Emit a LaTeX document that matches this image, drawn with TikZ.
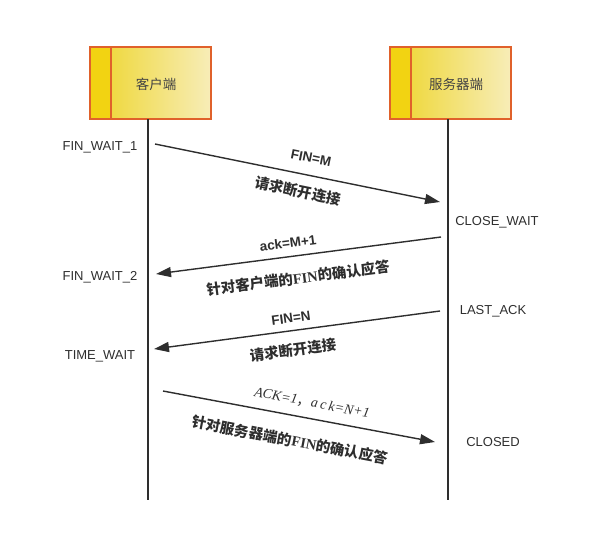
\documentclass[tikz,border=0pt]{standalone}
\usepackage{fontspec}
\setmainfont{Liberation Sans}
\newfontfamily\cjk{Noto Sans CJK SC}
\newfontfamily\serifen{Liberation Serif}
\usetikzlibrary{arrows.meta,calc}
\definecolor{boxborder}{HTML}{E0612B}
\definecolor{stripyel}{HTML}{F2D312}
\definecolor{gradL}{HTML}{EED52A}
\definecolor{gradR}{HTML}{F7EDB8}
\definecolor{ink}{HTML}{2E2E2E}
\begin{document}
\begin{tikzpicture}[x=1pt,y=-1pt,
  actor/.style={draw=boxborder,line width=1.8pt,left color=gradL,right color=gradR,
    minimum width=121pt,minimum height=72pt,inner sep=0pt,outer sep=0pt},
  strip/.style={draw=boxborder,line width=1.8pt,fill=stripyel},
  boxtext/.style={font=\cjk\fontsize{13.5}{15}\selectfont,text=ink!90},
  life/.style={draw=ink,line width=1.6pt},
  msg/.style={draw=ink,line width=1.4pt,-{Triangle[length=15pt,width=10pt]}},
  state/.style={font=\fontsize{13}{15}\selectfont,text=ink,inner sep=0pt},
  enlabel/.style={font=\bfseries\fontsize{13.5}{15}\selectfont,text=ink,inner sep=0pt},
  cnlabel/.style={font=\cjk\bfseries\fontsize{14.5}{16}\selectfont,text=ink,inner sep=0pt}]
\useasboundingbox (0,0) rectangle (596,533);
% actor boxes
\node[actor] (cli) at (150.5,83) {};
\draw[strip] (cli.north west) rectangle ($(cli.south west)+(21,0)$);
\node[boxtext] (clit) at (156,84) {客户端};
\node[actor] (srv) at (450.5,83) {};
\draw[strip] (srv.north west) rectangle ($(srv.south west)+(21,0)$);
\node[boxtext] (srvt) at (456,84) {服务器端};
% lifelines
\coordinate (cliend) at (148,500);
\coordinate (srvend) at (448,500);
\draw[life] (cli.south -| cliend) -- (cliend);
\draw[life] (srv.south -| srvend) -- (srvend);
% message endpoints
\coordinate (m1s) at (155,144);
\coordinate (m1e) at (440,202);
\coordinate (m2s) at (441,237);
\coordinate (m2e) at (156,274);
\coordinate (m3s) at (440,311);
\coordinate (m3e) at (154,349);
\coordinate (m4s) at (163,391);
\coordinate (m4e) at (435,442);
\draw[msg] (m1s) -- (m1e);
\draw[msg] (m2s) -- (m2e);
\draw[msg] (m3s) -- (m3e);
\draw[msg] (m4s) -- (m4e);
% message labels
\node[enlabel,rotate=-11.5] (l1a) at (311,158) {FIN=M};
\node[cnlabel,rotate=-11.5] (l1b) at (298,191) {请求断开连接};
\node[enlabel,rotate=7.4] (l2a) at (288,243) {ack=M+1};
\node[cnlabel,rotate=7.4] (l2b) at (298,278) {针对客户端的{\serifen\bfseries FIN}的确认应答};
\node[enlabel,rotate=7.6] (l3a) at (291,318) {FIN=N};
\node[cnlabel,rotate=7.6] (l3b) at (293,350) {请求断开连接};
\node[font=\serifen\itshape\fontsize{14}{16}\selectfont,text=ink,inner sep=0pt,rotate=-10.7] (l4a) at (312,403) {ACK=1{\cjk\upshape ，}a\,c\,k=N+1};
\node[cnlabel,rotate=-10.7] (l4b) at (290,440) {针对服务器端的{\serifen\bfseries FIN}的确认应答};
% states
\node[state] (s1) at (100,147) {FIN\_WAIT\_1};
\node[state] (s2) at (100,277) {FIN\_WAIT\_2};
\node[state] (s3) at (100,356) {TIME\_WAIT};
\node[state] (s4) at (497,222) {CLOSE\_WAIT};
\node[state] (s5) at (493,311) {LAST\_ACK};
\node[state] (s6) at (493,442) {CLOSED};
\end{tikzpicture}
\end{document}
